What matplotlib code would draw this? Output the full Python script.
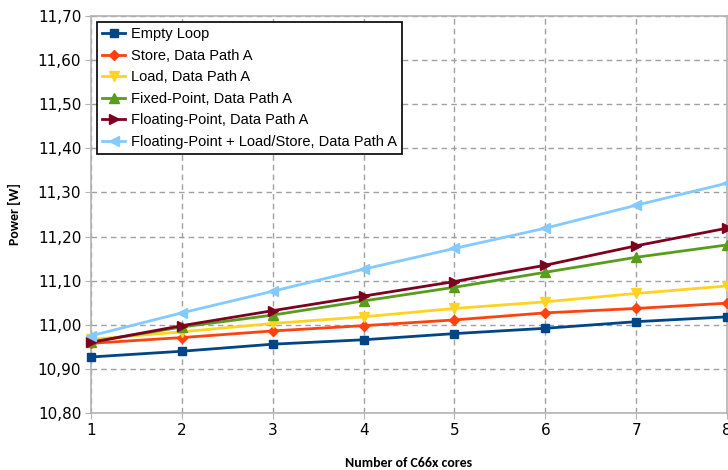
import matplotlib
matplotlib.use("Agg")
import matplotlib.pyplot as plt
from matplotlib.ticker import FuncFormatter

cores = [1, 2, 3, 4, 5, 6, 7, 8]
empty_loop = [10.927, 10.940, 10.956, 10.966, 10.980, 10.992, 11.007, 11.018]
store_a = [10.958, 10.971, 10.986, 10.998, 11.011, 11.027, 11.037, 11.049]
load_a = [10.967, 10.984, 11.003, 11.018, 11.037, 11.052, 11.071, 11.088]
fixed_a = [10.961, 10.995, 11.022, 11.054, 11.085, 11.119, 11.153, 11.181]
float_a = [10.960, 10.998, 11.032, 11.065, 11.098, 11.135, 11.179, 11.219]
float_ls_a = [10.975, 11.027, 11.076, 11.126, 11.173, 11.219, 11.271, 11.321]

series = [
    ("Empty Loop", empty_loop, "#004586", "s"),
    ("Store, Data Path A", store_a, "#ff420e", "D"),
    ("Load, Data Path A", load_a, "#ffd320", "v"),
    ("Fixed-Point, Data Path A", fixed_a, "#579d1c", "^"),
    ("Floating-Point, Data Path A", float_a, "#7e0021", ">"),
    ("Floating-Point + Load/Store, Data Path A", float_ls_a, "#83caff", "<"),
]

fig = plt.figure(figsize=(7.28, 4.70), dpi=100)
ax = fig.add_axes([91/728, 1-413/470, (727-91)/728, 397/470])

for name, vals, col, mk in series:
    ms = 6 if mk in ("s",) else (5 if mk == "D" else 7)
    ax.plot(cores, vals, color=col, marker=mk, markersize=ms, linewidth=2, label=name, clip_on=False, zorder=3)

ax.set_xlim(1, 8)
ax.set_ylim(10.80, 11.70)
ax.set_yticks([10.8 + 0.1*i for i in range(10)])
ax.set_xticks(cores)
ax.yaxis.set_major_formatter(FuncFormatter(lambda v, p: f"{v:.2f}".replace(".", ",")))
ax.grid(True, color="#a0a0a0", linestyle=(0, (4, 3)), linewidth=1)
for s in ax.spines.values():
    s.set_color("#b3b3b3")
    s.set_linewidth(1.2)
ax.tick_params(axis="both", color="#b3b3b3", length=4, labelsize=11, pad=3)
for lab in ax.get_xticklabels() + ax.get_yticklabels():
    lab.set_family(["Liberation Sans Narrow", "DejaVu Sans"])

ax.set_ylabel("Power [W]", fontsize=10, fontweight="bold", family=["Carlito", "Liberation Sans Narrow", "DejaVu Sans"], labelpad=12)
ax.set_xlabel("Number of C66x cores", fontsize=10, fontweight="bold", family=["Carlito", "Liberation Sans Narrow", "DejaVu Sans"], labelpad=14)

leg = ax.legend(loc="upper left", bbox_to_anchor=(0.0095, 0.985), fancybox=False, framealpha=1,
                edgecolor="#000000", handlelength=1.6, handletextpad=0.4,
                labelspacing=0.52, borderpad=0.35, borderaxespad=0,
                prop={"family": ["Liberation Sans", "DejaVu Sans"], "size": 10.5})
leg.get_frame().set_linewidth(1.2)

fig.savefig("out.png", dpi=100)
